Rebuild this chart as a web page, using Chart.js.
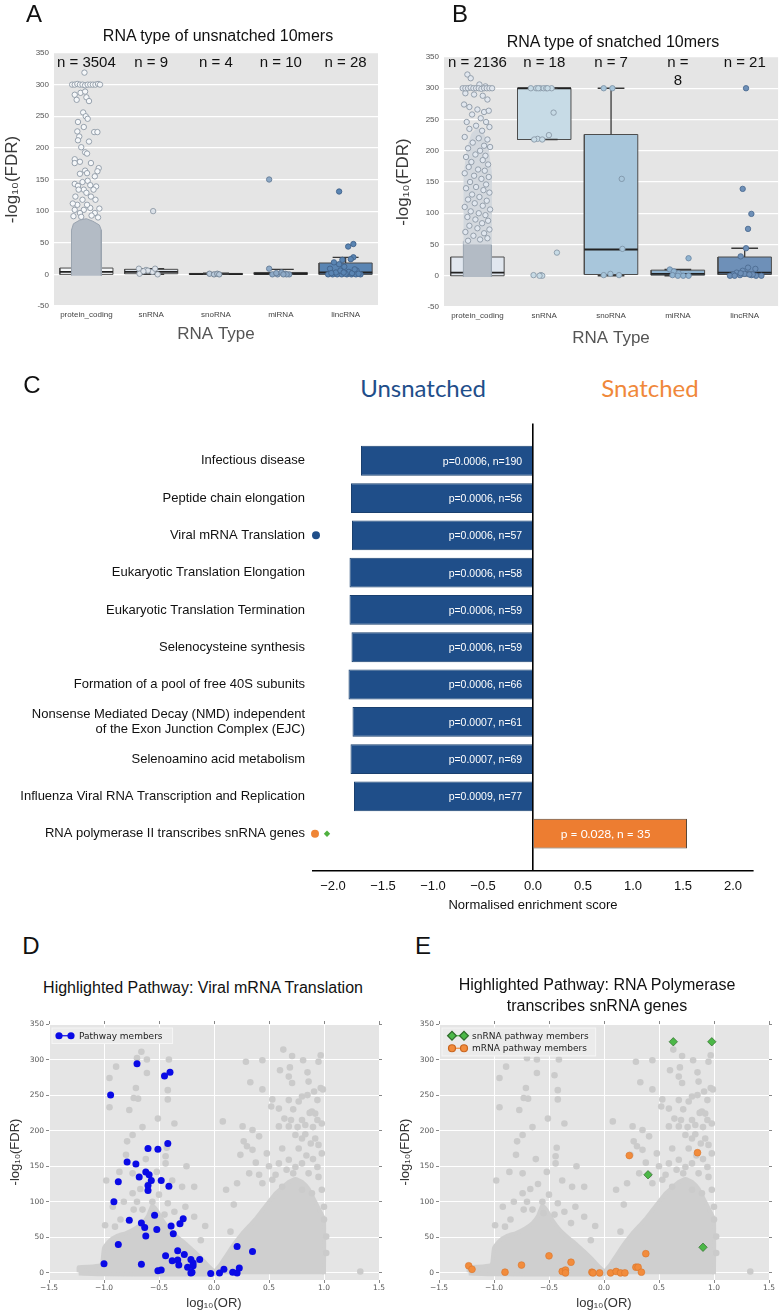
<!DOCTYPE html>
<html>
<head>
<meta charset="utf-8">
<script src="https://cdn.jsdelivr.net/npm/chart.js@4.4.1/dist/chart.umd.min.js"></script>
<style>
  body { margin: 0; background: #fff; width: 783px; height: 1313px; position: relative; overflow: hidden;
         font-family: 'Liberation Sans', Arial, sans-serif; }
  canvas { position: absolute; }
  .t { position: absolute; white-space: nowrap; color: #111; transform: translate(-50%, -50%); line-height: 1; }
  .letter { font-size: 24px; }
  .ttl { font-size: 16px; }
  .head { font-family: Lato, 'Open Sans', sans-serif; font-size: 24px; }
</style>
</head>
<body>
<canvas id="chartA" width="390" height="350" style="left:0;top:0"></canvas>
<canvas id="chartB" width="393" height="350" style="left:390px;top:0"></canvas>
<canvas id="chartC" width="783" height="512" style="left:0;top:408px"></canvas>
<canvas id="chartD" width="392" height="303" style="left:0;top:1010px"></canvas>
<canvas id="chartE" width="393" height="303" style="left:390px;top:1010px"></canvas>

<div class="t letter" style="left:34px;top:14px">A</div>
<div class="t letter" style="left:460px;top:14px">B</div>
<div class="t letter" style="left:32px;top:385px">C</div>
<div class="t letter" style="left:31px;top:946px">D</div>
<div class="t letter" style="left:423px;top:946px">E</div>
<div class="t ttl" style="left:218px;top:36px">RNA type of unsnatched 10mers</div>
<div class="t ttl" style="left:613px;top:42px">RNA type of snatched 10mers</div>
<div class="t head" style="left:423px;top:388px;color:#1f4e8a">Unsnatched</div>
<div class="t head" style="left:650px;top:388px;color:#f0883a">Snatched</div>
<div class="t ttl" style="left:203px;top:988px">Highlighted Pathway: Viral mRNA Translation</div>
<div class="t ttl" style="left:597px;top:985px">Highlighted Pathway: RNA Polymerase</div>
<div class="t ttl" style="left:597px;top:1006px">transcribes snRNA genes</div>

<script>
Chart.defaults.font.family = "'Liberation Sans', Arial, sans-serif";
Chart.defaults.color = '#555';
Chart.defaults.animation = false;
Chart.defaults.plugins.legend.display = false;
Chart.defaults.plugins.tooltip.enabled = false;

// ---------- panels A / B ----------
const rnaTypes = ['protein_coding', 'snRNA', 'snoRNA', 'miRNA', 'lincRNA'];
const fdrTicks = [-50, 0, 50, 100, 150, 200, 250, 300, 350];
const unsnatchedN = [3504, 9, 4, 10, 28];
const snatchedN = [2136, 18, 7, 8, 21];

// [low whisker, q1, median, q3, high whisker]
const unsnatchedBox = [[0, 0, 4, 10, 24], [0, 1, 4, 8, 9], [0, 0, 0.5, 1.5, 2], [0, 0, 1, 3, 8], [0, 0, 3, 18, 27]];
const snatchedBox = [[0, 0, 5, 30, 75], [218, 218, 300, 300, 300], [0, 2, 42, 226, 300], [0, 1, 3, 9, 10], [0, 2, 5, 30, 44]];

// strip points: [jitter offset, -log10(FDR)]
const aCodingCore = [[-0.23, -2], [-0.23, 70], [-0.2, 80], [-0.1, 86], [0.0, 88], [0.1, 84], [0.2, 78], [0.23, 70], [0.23, -2]];
const aCodingPts = [[-0.03, 319], [-0.18, 284], [-0.09, 287], [-0.02, 289], [0.0, 280], [-0.15, 276], [0.04, 274],
  [-0.05, 256], [-0.01, 250], [0.02, 246], [-0.13, 241], [0.12, 225], [0.17, 225], [-0.04, 233], [-0.14, 226], [-0.11, 218],
  [-0.13, 212], [0.04, 210], [-0.08, 201], [-0.02, 193], [0.01, 191], [-0.18, 182], [-0.1, 178], [-0.18, 176], [0.07, 176],
  [0.19, 168], [0.17, 163], [-0.02, 164], [0.01, 160], [-0.1, 159], [0.13, 155], [-0.18, 143], [-0.13, 140], [-0.06, 146],
  [0.02, 148], [0.06, 141], [0.15, 139], [-0.04, 134], [0.11, 134], [-0.17, 123], [-0.12, 134], [0.0, 129], [0.07, 123],
  [-0.06, 118], [0.14, 118], [-0.18, 102], [-0.04, 102], [0.06, 105], [0.13, 97], [-0.1, 97], [-0.14, 110], [0.01, 110],
  [-0.2, 92], [0.18, 90], [-0.08, 91], [0.08, 93], [0.2, 104], [-0.21, 112],
  [-0.22, 300], [-0.18, 300], [-0.14, 301], [-0.1, 300], [-0.06, 300], [-0.02, 299], [0.02, 300], [0.06, 300], [0.1, 300],
  [0.14, 300], [0.18, 301], [0.21, 300]];
const aSnPts = [[0.03, 100], [-0.19, 9], [-0.08, 7], [0.02, 4], [0.1, 0], [-0.18, 1], [-0.05, 6], [0.06, 9], [-0.12, 5]];
const aSnoPts = [[-0.1, 1], [-0.03, 0], [0.02, 1], [0.05, 0]];
const aMiPts = [[-0.18, 150], [-0.18, 9], [-0.13, 0], [-0.05, 0], [0.01, 3], [0.07, 1], [0.13, 0], [0.09, 0], [-0.07, 2], [0.04, 0]];
const aLincPts = [[-0.1, 131], [0.12, 48], [0.04, 44], [0.12, 27], [-0.05, 23], [0.08, 24], [-0.18, 19], [-0.1, 16], [-0.02, 12],
  [-0.24, 9], [0.17, 6], [-0.27, 0], [-0.2, 0], [-0.13, 0], [-0.06, 0], [0.02, 0], [0.09, 0], [0.16, 0], [0.23, 0], [-0.15, 3],
  [0.05, 4], [-0.08, 6], [0.1, 2], [0.2, 1], [-0.22, 2], [0.0, 1], [0.14, 8], [-0.03, 3]];

const bCodingCore = [[-0.21, -2], [-0.21, 55], [-0.12, 62], [0.0, 66], [0.12, 62], [0.21, 56], [0.21, -2]];
const bCodingMid = [[-0.2, 50], [-0.2, 160], [-0.15, 205], [-0.08, 228], [0.0, 236], [0.08, 230], [0.15, 212], [0.21, 165], [0.21, 50]];
const bCodingPts = [[-0.15, 322], [-0.1, 316], [0.03, 306], [0.12, 303], [-0.18, 292], [-0.05, 290], [0.08, 288], [0.15, 282],
  [-0.2, 274], [-0.12, 270], [0.0, 266], [0.1, 262], [0.17, 264], [-0.08, 258], [0.05, 252], [-0.16, 246], [0.13, 246],
  [-0.02, 240], [0.18, 238], [-0.12, 235], [0.07, 232], [-0.19, 222], [0.02, 220], [0.15, 218], [-0.07, 213], [0.1, 208],
  [-0.14, 204], [0.19, 206], [0.04, 200], [-0.03, 194], [0.12, 192], [-0.17, 190], [0.08, 185], [-0.09, 182], [0.16, 178],
  [-0.13, 174], [0.01, 170], [0.11, 168], [-0.19, 164], [-0.05, 160], [0.17, 158], [0.06, 155], [-0.11, 150], [0.13, 146],
  [-0.02, 142], [-0.17, 140], [0.09, 137], [0.18, 133], [-0.08, 130], [0.03, 126], [-0.14, 122], [0.14, 120], [-0.04, 116],
  [0.08, 112], [-0.19, 110], [0.19, 106], [-0.1, 103], [0.02, 100], [0.12, 97], [-0.15, 94], [-0.03, 90], [0.16, 88],
  [0.07, 84], [-0.12, 80], [0.0, 76], [0.18, 74], [-0.18, 70], [0.1, 68], [-0.06, 64], [0.15, 60], [0.04, 58], [-0.14, 56],
  [-0.22, 300], [-0.18, 300], [-0.14, 300], [-0.1, 301], [-0.06, 300], [-0.02, 300], [0.02, 300], [0.06, 299], [0.1, 300],
  [0.14, 300], [0.18, 300], [0.22, 300]];
const bSnPts = [[-0.2, 300], [-0.12, 300], [-0.06, 300], [-0.01, 300], [0.11, 300], [0.03, 300], [-0.09, 300], [0.05, 300],
  [0.14, 261], [0.07, 225], [-0.1, 219], [-0.15, 218], [-0.03, 218], [0.19, 37], [-0.16, 1], [-0.05, 1], [-0.03, 0], [-0.07, 0]];
const bSnoPts = [[-0.11, 300], [0.02, 300], [0.16, 155], [0.17, 43], [-0.11, 1], [-0.01, 3], [0.12, 1]];
const bMiPts = [[0.16, 28], [-0.12, 10], [-0.06, 7], [0.01, 4], [-0.08, 1], [0.08, 0], [0.16, 0], [0.0, 0]];
const bLincPts = [[0.02, 300], [-0.03, 139], [0.1, 99], [0.05, 75], [0.02, 44], [-0.06, 31], [0.05, 13], [0.16, 11], [-0.03, 8],
  [-0.12, 5], [-0.17, 2], [-0.07, 1], [0.0, 3], [0.1, 1], [0.17, 0], [0.25, 0], [-0.22, 0], [-0.15, 0], [0.12, 2], [-0.06, 4], [0.07, 2]];

// ---------- panel C ----------
const pathways = ['Infectious disease', 'Peptide chain elongation', 'Viral mRNA Translation',
  'Eukaryotic Translation Elongation', 'Eukaryotic Translation Termination', 'Selenocysteine synthesis',
  'Formation of a pool of free 40S subunits',
  ['Nonsense Mediated Decay (NMD) independent', 'of the Exon Junction Complex (EJC)'],
  'Selenoamino acid metabolism', 'Influenza Viral RNA Transcription and Replication',
  'RNA polymerase II transcribes snRNA genes'];
const nes = [-1.72, -1.82, -1.81, -1.835, -1.835, -1.815, -1.845, -1.805, -1.825, -1.79, 1.54];
const pValues = ['0.0006', '0.0006', '0.0006', '0.0006', '0.0006', '0.0006', '0.0006', '0.0007', '0.0007', '0.0009', '0.028'];
const setSizes = [190, 56, 57, 58, 59, 59, 66, 61, 69, 77, 35];
const nesTicks = [-2, -1.5, -1, -0.5, 0, 0.5, 1, 1.5, 2];

// ---------- panels D / E ----------
const orTicks = [-1.5, -1, -0.5, 0, 0.5, 1, 1.5];
const volcanoFdrTicks = [0, 50, 100, 150, 200, 250, 300, 350];
// outline of the dense grey mass of all 10mers [log10(OR), -log10(FDR)]
const bgLeftMass = [[-1.23, 1], [-1.23, 8], [-1.1, 9], [-1.02, 12], [-1.0, 35], [-0.95, 45], [-0.88, 52], [-0.8, 56],
  [-0.72, 62], [-0.65, 70], [-0.6, 80], [-0.56, 95], [-0.52, 88], [-0.46, 72], [-0.4, 60], [-0.33, 50], [-0.25, 40],
  [-0.18, 30], [-0.1, 18], [-0.04, 8], [0.0, 2], [0.0, -2], [-1.0, -2], [-1.23, -1]];
const bgRightMass = [[0.01, -2], [0.01, 2], [0.06, 12], [0.12, 26], [0.18, 40], [0.25, 54], [0.32, 66], [0.38, 76],
  [0.44, 88], [0.5, 100], [0.56, 112], [0.62, 120], [0.68, 128], [0.74, 132], [0.8, 128], [0.86, 118], [0.92, 100],
  [0.97, 85], [1.0, 75], [1.0, -2]];
const bgPoints = [[-0.66, 311], [-0.70, 302], [-0.61, 300], [-0.41, 300], [-0.89, 290], [-0.61, 281], [-0.45, 278],
  [-0.95, 274], [-0.42, 257], [-0.71, 260], [-0.73, 246], [-0.69, 245], [-0.95, 233], [-0.42, 244], [-0.77, 229],
  [-0.51, 217], [-0.36, 210], [-0.65, 205], [-0.74, 194], [-0.79, 185], [-0.43, 176], [-0.8, 166], [-0.44, 164],
  [-0.25, 150], [-0.86, 142], [-0.98, 130], [-0.74, 140], [-0.52, 142], [-0.44, 154], [-0.29, 121], [-0.18, 121],
  [-0.74, 112], [-0.56, 100], [-0.92, 93], [-0.65, 89], [-0.73, 89], [-0.45, 82], [-0.55, 84], [-0.36, 86], [-0.26, 93],
  [-0.99, 67], [-0.18, 79], [-0.12, 46], [0.15, 58], [-0.08, 66], [-0.6, 125], [-0.67, 118], [-0.5, 110], [-0.82, 100],
  [-0.62, 160], [-0.38, 130], [-0.85, 75], [-0.42, 98], [-0.7, 100], [-0.3, 70], [-0.9, 65],
  [0.29, 297], [0.44, 299], [0.63, 314], [0.71, 305], [0.81, 299], [0.97, 306], [0.95, 297], [0.6, 285], [0.69, 289],
  [0.85, 282], [0.68, 276], [0.71, 267], [0.86, 269], [0.97, 260], [0.99, 258], [0.33, 268], [0.44, 258], [0.53, 244],
  [0.52, 234], [0.59, 231], [0.68, 243], [0.77, 241], [0.8, 248], [0.89, 227], [0.94, 243], [0.92, 224], [0.94, 215],
  [0.98, 210], [0.64, 217], [0.7, 215], [0.8, 215], [0.83, 208], [0.59, 206], [0.68, 206], [0.74, 194], [0.8, 189],
  [0.88, 182], [0.92, 189], [0.98, 168], [0.26, 206], [0.35, 201], [0.41, 192], [0.27, 185], [0.3, 178], [0.35, 173],
  [0.24, 166], [0.48, 168], [0.59, 154], [0.68, 159], [0.74, 149], [0.8, 154], [0.86, 140], [0.94, 149], [0.95, 135],
  [0.98, 117], [0.32, 140], [0.41, 138], [0.21, 126], [0.11, 117], [0.08, 213], [0.18, 96], [0.44, 126], [0.53, 131],
  [0.62, 121], [0.8, 117], [0.89, 112], [1.0, 93], [1.0, 75], [1.02, 51], [1.02, 28], [1.33, 2],
  [0.77, 175], [0.84, 165], [0.9, 160], [0.72, 140], [0.66, 145], [0.56, 138], [0.83, 195], [0.76, 205], [0.87, 225],
  [0.9, 205], [0.72, 230], [0.62, 175], [0.5, 150], [0.38, 155], [0.95, 180], [0.85, 250], [0.91, 255]];
const viralPathway = [[-0.70, 294], [-0.45, 277], [-0.40, 282], [-0.94, 250], [-0.42, 182], [-0.60, 175], [-0.51, 174],
  [-0.79, 156], [-0.71, 153], [-0.62, 142], [-0.59, 138], [-0.87, 128], [-0.68, 135], [-0.57, 130], [-0.48, 130],
  [-0.60, 123], [-0.60, 116], [-0.41, 122], [-0.91, 100], [-0.54, 81], [-0.77, 74], [-0.66, 70], [-0.28, 76], [-0.31, 69],
  [-0.63, 64], [-0.52, 61], [-0.39, 66], [-0.37, 55], [-0.62, 52], [-0.87, 40], [-0.33, 31], [-0.44, 24], [-0.27, 26],
  [-1.00, 13], [-0.66, 12], [-0.38, 17], [-0.33, 18], [-0.21, 19], [-0.13, 19], [-0.19, 14], [-0.32, 11], [-0.24, 8],
  [-0.19, 10], [-0.51, 3], [-0.48, 4], [-0.21, 0], [-0.20, 1], [-0.03, -1], [0.05, 0], [0.09, 5], [0.17, 1], [0.21, 0],
  [0.21, 37], [0.23, 7], [0.35, 30]];
const snrnaMembers = [[0.63, 325], [0.98, 325], [0.40, 138], [0.90, 36]];
const mrnaMembers = [[0.23, 165], [0.85, 169], [0.38, 27], [-0.50, 24], [-0.75, 11], [-1.23, 10], [-1.20, 5], [-0.90, 1],
  [-0.30, 15], [-0.38, 2], [-0.35, 4], [-0.35, 0], [-0.11, 1], [-0.10, 0], [-0.04, 0], [0.06, 0], [0.11, 2], [0.15, 0],
  [0.19, 0], [0.29, 8], [0.31, 8], [0.34, 1]];

// ---------- shared helpers ----------
const plotBg = {
  id: 'plotBg',
  beforeDraw(chart, args, opts) {
    if (!opts.color) return;
    const {ctx, chartArea: a} = chart;
    ctx.save();
    ctx.fillStyle = opts.color;
    ctx.fillRect(a.left, a.top, a.width, a.height);
    ctx.restore();
  }
};
Chart.register(plotBg);

const fixedTicks = (values) => (scale) => { scale.ticks = values.map(v => ({value: v})); };
const fixWidth = (w) => (scale) => { scale.width = w; };
const fixHeight = (h) => (scale) => { scale.height = h; };
const toXY = (pairs) => pairs.map(([x, y]) => ({x: x, y: y}));

// n = ... labels above the boxes
const countLabels = {
  id: 'countLabels',
  afterDatasetsDraw(chart, args, opts) {
    const {ctx, scales: {x}} = chart;
    ctx.save();
    ctx.font = "15px 'Liberation Sans', Arial, sans-serif";
    ctx.fillStyle = '#111';
    ctx.textAlign = 'center';
    ctx.textBaseline = 'middle';
    opts.counts.forEach((n, i) => {
      const lines = opts.wrap[i] ? ['n =', String(n)] : ['n = ' + n];
      lines.forEach((t, k) => ctx.fillText(t, x.getPixelForValue(i), opts.y + k * 18));
    });
    ctx.restore();
  }
};

function boxChart(id, stats, points, cores, fills, edges, counts, wrap, half, padTop, padRight, xHeight, labelPad, ytitlePad, xtitlePad) {
  const datasets = [];
  stats.forEach(([lo, q1, med, q3, hi], i) => {
    datasets.push({
      type: 'line', order: 5, fill: 'shape', backgroundColor: fills[i], borderColor: '#4d4d4d', borderWidth: 1,
      pointRadius: 0, tension: 0,
      data: [{x: i - half, y: q1}, {x: i + half, y: q1}, {x: i + half, y: q3}, {x: i - half, y: q3}, {x: i - half, y: q1}]
    });
  });
  const whisk = [];
  const meds = [];
  const cap = 0.2;
  stats.forEach(([lo, q1, med, q3, hi], i) => {
    whisk.push({x: i, y: q3}, {x: i, y: hi}, {x: i, y: null},
      {x: i - cap, y: hi}, {x: i + cap, y: hi}, {x: i, y: null},
      {x: i, y: q1}, {x: i, y: lo}, {x: i, y: null},
      {x: i - cap, y: lo}, {x: i + cap, y: lo}, {x: i, y: null});
    meds.push({x: i - half, y: med}, {x: i + half, y: med}, {x: i, y: null});
  });
  datasets.push({type: 'line', order: 4, data: whisk, borderColor: '#3a3a3a', borderWidth: 1.3, pointRadius: 0, spanGaps: false, fill: false});
  datasets.push({type: 'line', order: 4, data: meds, borderColor: '#222', borderWidth: 1.8, pointRadius: 0, spanGaps: false, fill: false});
  cores.forEach(c => {
    datasets.push({type: 'line', order: 3, data: toXY(c.shape), fill: 'shape', backgroundColor: c.color,
      borderColor: c.edge, borderWidth: 1, pointRadius: 0, tension: 0});
  });
  points.forEach((pts, i) => {
    datasets.push({
      type: 'scatter', order: 1, data: pts.map(([o, v]) => ({x: i + o, y: v})),
      backgroundColor: fills[i], borderColor: edges[i], borderWidth: 0.9, pointRadius: 2.7
    });
  });

  return new Chart(document.getElementById(id), {
    type: 'line',
    data: {datasets: datasets},
    plugins: [countLabels],
    options: {
      responsive: false,
      layout: {padding: {left: 0, right: padRight, top: padTop, bottom: 0}},
      plugins: {
        plotBg: {color: '#e5e5e5'},
        countLabels: {counts: counts, wrap: wrap, y: 63}
      },
      scales: {
        x: {
          type: 'linear', min: -0.5, max: 4.5, offset: false,
          afterBuildTicks: fixedTicks([0, 1, 2, 3, 4]),
          afterFit: fixHeight(xHeight),
          grid: {display: false, drawTicks: false, offset: false},
          border: {display: false},
          ticks: {callback: v => rnaTypes[v], font: {size: 8}, color: '#444', padding: labelPad, maxRotation: 0, autoSkip: false},
          title: {display: true, text: 'RNA Type', font: {size: 17}, color: '#555', padding: {top: 0, bottom: xtitlePad}}
        },
        y: {
          type: 'linear', min: -50, max: 350,
          afterBuildTicks: fixedTicks(fdrTicks),
          afterFit: fixWidth(54),
          grid: {color: '#ffffff', lineWidth: 1.2, drawTicks: false},
          border: {display: false},
          ticks: {font: {size: 8}, color: '#555', padding: 5},
          title: {display: true, text: '-log\u2081\u2080(FDR)', font: {size: 17}, color: '#3a3a3a', padding: {top: ytitlePad, bottom: 0}}
        }
      }
    }
  });
}

boxChart('chartA', unsnatchedBox, [aCodingPts, aSnPts, aSnoPts, aMiPts, aLincPts],
  [{shape: aCodingCore, color: '#b3bbc5', edge: '#9aa4b0'}],
  ['#f6f8fa', '#dde3ea', '#b9cadb', '#8eaac7', '#5a85b3'],
  ['#8d98a5', '#8d98a5', '#6f7f90', '#667d96', '#41628a'],
  unsnatchedN, [false, false, false, false, false], 0.41, 53, 12, 44, 4, 2, 5);

boxChart('chartB', snatchedBox, [bCodingPts, bSnPts, bSnoPts, bMiPts, bLincPts],
  [{shape: bCodingMid, color: '#d3d8de', edge: '#d3d8de'}, {shape: bCodingCore, color: '#b3bbc5', edge: '#9aa4b0'}],
  ['#e1e7ef', '#c7dbe6', '#a8c6db', '#8fb3d0', '#6e90b8'],
  ['#8d98a5', '#8a9aa8', '#7f95a8', '#6f8aa6', '#4d6c92'],
  snatchedN, [false, false, false, true, false], 0.4, 57, 1, 43, 4, 3, 1);

// ---------- panel C ----------
const barText = {
  id: 'barText',
  afterDatasetsDraw(chart) {
    const {ctx} = chart;
    const meta = chart.getDatasetMeta(0);
    ctx.save();
    ctx.fillStyle = '#fff';
    ctx.textBaseline = 'middle';
    meta.data.forEach((bar, i) => {
      if (nes[i] < 0) {
        ctx.font = "10.5px 'Liberation Sans', Arial, sans-serif";
        ctx.textAlign = 'right';
        ctx.fillText('p=' + pValues[i] + ', n=' + setSizes[i], bar.base - 10, bar.y + 1);
      } else {
        ctx.font = "12px Lato, 'Open Sans', sans-serif";
        ctx.textAlign = 'left';
        ctx.fillText('p = ' + pValues[i] + ', n = ' + setSizes[i], bar.base + 27, bar.y);
      }
    });
    ctx.restore();
  }
};

new Chart(document.getElementById('chartC'), {
  type: 'bar',
  data: {
    datasets: [
      {
        type: 'bar', indexAxis: 'y', order: 2,
        data: nes.map((v, i) => ({x: v, y: i})),
        backgroundColor: nes.map(v => v < 0 ? '#1f4e89' : '#ed7d31'),
        borderColor: nes.map(v => v < 0 ? '#1a406f' : '#5a4838'),
        borderWidth: 1, barPercentage: 0.8, categoryPercentage: 1
      },
      {
        type: 'scatter', order: 1, clip: false, data: [{x: -2.17, y: pathways.indexOf('Viral mRNA Translation')}],
        pointStyle: 'circle', pointRadius: 4, backgroundColor: '#1f4e89', borderWidth: 0
      },
      {
        type: 'scatter', order: 1, clip: false, data: [{x: -2.18, y: pathways.length - 1}],
        pointStyle: 'circle', pointRadius: 4, backgroundColor: '#ef8535', borderWidth: 0
      },
      {
        type: 'scatter', order: 1, clip: false, data: [{x: -2.06, y: pathways.length - 1}],
        pointStyle: 'rectRot', pointRadius: 3.2, backgroundColor: '#4fb03f', borderWidth: 0
      }
    ]
  },
  plugins: [barText],
  options: {
    responsive: false,
    layout: {padding: {left: 0, right: 30, top: 0, bottom: 0}},
    scales: {
      x: {
        type: 'linear', min: -2.2, max: 2.2, z: 1, offset: false,
        afterBuildTicks: fixedTicks(nesTicks),
        afterFit: fixHeight(49),
        grid: {color: c => (c.tick && c.tick.value === 0 ? '#000' : 'rgba(0,0,0,0)'), lineWidth: 1.6, drawTicks: false, offset: false},
        border: {display: true, color: '#000', width: 1.6},
        ticks: {callback: v => (v < 0 ? '\u2212' : '') + Math.abs(v).toFixed(1), font: {size: 13}, color: '#111', padding: 8, maxRotation: 0},
        title: {display: true, text: 'Normalised enrichment score', font: {size: 13}, color: '#111', padding: {top: 0, bottom: 7}}
      },
      y: {
        type: 'linear', min: -1, max: 11, reverse: true, offset: false, beginAtZero: false,
        afterBuildTicks: fixedTicks(pathways.map((p, i) => i)),
        afterFit: fixWidth(313),
        grid: {display: false, drawTicks: false, offset: false},
        border: {display: false},
        ticks: {callback: v => pathways[v], font: {size: 13, lineHeight: 1.15}, color: '#111', padding: 8, autoSkip: false}
      }
    }
  }
});

// ---------- panels D / E ----------
const miniLegend = {
  id: 'miniLegend',
  afterDatasetsDraw(chart, args, opts) {
    const {ctx, chartArea: a} = chart;
    const rowH = 12.5;
    ctx.save();
    ctx.font = "9px 'DejaVu Sans', sans-serif";
    const textW = Math.max(...opts.items.map(it => ctx.measureText(it.text).width));
    const x0 = a.left + 3, y0 = a.top + 4;
    const w = 30 + textW + 7, h = opts.items.length * rowH + 3;
    ctx.fillStyle = '#ebebeb';
    ctx.strokeStyle = '#f6f6f6';
    ctx.lineWidth = 1;
    ctx.fillRect(x0, y0, w, h);
    ctx.strokeRect(x0, y0, w, h);
    opts.items.forEach((it, k) => {
      const cy = y0 + 1.5 + rowH * k + rowH / 2;
      ctx.strokeStyle = it.color;
      ctx.lineWidth = 1.2;
      ctx.beginPath();
      ctx.moveTo(x0 + 7 + it.dx, cy);
      ctx.lineTo(x0 + 19 + it.dx, cy);
      ctx.stroke();
      ctx.fillStyle = it.color;
      ctx.strokeStyle = it.edge;
      [7, 19].forEach(px => Chart.helpers.drawPoint(ctx, {pointStyle: it.style, radius: it.r, borderWidth: it.edgeW, rotation: 0}, x0 + px + it.dx, cy));
      ctx.fillStyle = '#222';
      ctx.textBaseline = 'middle';
      ctx.fillText(it.text, x0 + 27 + it.dx, cy + 0.5);
    });
    ctx.restore();
  }
};

function volcano(id, overlays, legendItems, padRight) {
  const datasets = [
    {type: 'line', order: 5, data: toXY(bgLeftMass), fill: 'shape', backgroundColor: '#cfcfcf', borderColor: '#cfcfcf', borderWidth: 4, pointRadius: 0, tension: 0.15},
    {type: 'line', order: 5, data: toXY(bgRightMass), fill: 'shape', backgroundColor: '#cfcfcf', borderColor: '#cfcfcf', borderWidth: 4, pointRadius: 0, tension: 0.15},
    {type: 'scatter', order: 4, data: toXY(bgPoints), backgroundColor: '#cbcbcb', borderWidth: 0, pointRadius: 3.3}
  ].concat(overlays);

  return new Chart(document.getElementById(id), {
    type: 'scatter',
    data: {datasets: datasets},
    plugins: [miniLegend],
    options: {
      responsive: false,
      layout: {padding: {left: 0, right: padRight, top: 10, bottom: 0}},
      plugins: {plotBg: {color: '#e5e5e5'}, miniLegend: {items: legendItems}},
      scales: {
        x: {
          type: 'linear', min: -1.5, max: 1.5,
          afterBuildTicks: fixedTicks(orTicks),
          afterFit: fixHeight(33),
          grid: {color: '#ffffff', lineWidth: 1, tickColor: '#888', tickLength: 3},
          border: {display: false},
          ticks: {callback: v => (v < 0 ? '\u2212' : '') + Math.abs(v).toFixed(1), font: {family: "'DejaVu Sans', sans-serif", size: 7.5}, color: '#555', padding: 1, maxRotation: 0},
          title: {display: true, text: 'log\u2081\u2080(OR)', font: {size: 13}, color: '#333', padding: {top: 0, bottom: 2}}
        },
        x2: {
          type: 'linear', position: 'top', min: -1.5, max: 1.5,
          afterBuildTicks: fixedTicks(orTicks),
          afterFit: fixHeight(4),
          grid: {drawOnChartArea: false, tickColor: '#888', tickLength: 3},
          border: {display: false},
          ticks: {display: false}
        },
        y: {
          type: 'linear', min: -10, max: 350,
          afterBuildTicks: fixedTicks(volcanoFdrTicks),
          afterFit: fixWidth(49),
          grid: {color: '#ffffff', lineWidth: 1, tickColor: '#888', tickLength: 3},
          border: {display: false},
          ticks: {font: {family: "'DejaVu Sans', sans-serif", size: 7.5}, color: '#555', padding: 2},
          title: {display: true, text: '-log\u2081\u2080(FDR)', font: {size: 13}, color: '#333', padding: {top: 8, bottom: 0}}
        },
        y2: {
          type: 'linear', position: 'right', min: -10, max: 350,
          afterBuildTicks: fixedTicks(volcanoFdrTicks),
          afterFit: fixWidth(4),
          grid: {drawOnChartArea: false, tickColor: '#888', tickLength: 3},
          border: {display: false},
          ticks: {display: false}
        }
      }
    }
  });
}

volcano('chartD', [
  {type: 'scatter', order: 1, data: toXY(viralPathway), backgroundColor: '#0a0ae6', borderWidth: 0, pointRadius: 3.5}
], [
  {text: 'Pathway members', color: '#0a0ae6', edge: '#0a0ae6', style: 'circle', r: 3.6, edgeW: 0, dx: 0}
], 9);

volcano('chartE', [
  {type: 'scatter', order: 2, data: toXY(mrnaMembers), backgroundColor: '#f28c3c', borderColor: '#d8732a', borderWidth: 0.6, pointRadius: 3.4},
  {type: 'scatter', order: 1, data: toXY(snrnaMembers), pointStyle: 'rectRot', backgroundColor: '#4cb848', borderColor: '#2f6b2b', borderWidth: 0.7, pointRadius: 4.2}
], [
  {text: 'snRNA pathway members', color: '#4cb848', edge: '#2f6b2b', style: 'rectRot', r: 4.4, edgeW: 0.8, dx: 3},
  {text: 'mRNA pathway members', color: '#f28c3c', edge: '#c9651f', style: 'circle', r: 3.5, edgeW: 0.8, dx: 3}
], 10);
</script>
</body>
</html>
